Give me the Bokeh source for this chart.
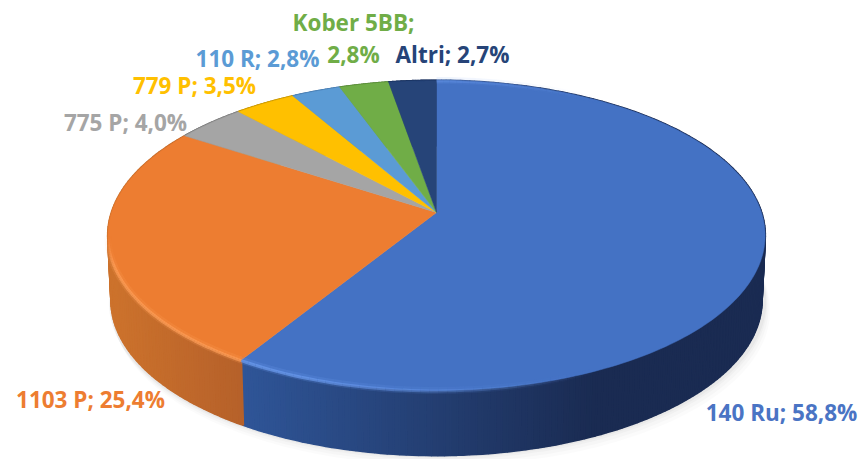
import numpy as np
from bokeh.plotting import figure
from bokeh.models import Range1d
from bokeh.core.properties import value
from bokeh.embed import file_html
from bokeh.resources import INLINE

categories = ["140 Ru", "1103 P", "775 P", "779 P", "110 R", "Kober 5BB", "Altri"]
shares = [58.8, 25.4, 4.0, 3.5, 2.8, 2.8, 2.7]
top_colors = ["#4472C4", "#ED7D31", "#A5A5A5", "#FFC000", "#5B9BD5", "#70AD47", "#264478"]
wall_left = ["#2F5597", "#CC722C", "#7F7F7F", "#C79500", "#4A7DB0", "#5A8A3A", "#1C3360"]
wall_right = ["#1A2B52", "#B5602A", "#7F7F7F", "#C79500", "#4A7DB0", "#5A8A3A", "#1C3360"]
text_colors = ["#4A74C4", "#ED7D31", "#A5A5A5", "#FFC000", "#5B9BD5", "#70AD47", "#264478"]
label_lines = [["140 Ru; 58,8%"], ["1103 P; 25,4%"], ["775 P; 4,0%"], ["779 P; 3,5%"],
               ["110 R; 2,8%"], ["Kober 5BB;", "2,8%"], ["Altri; 2,7%"]]
label_x = [781, 90, 125, 194, 257, 353, 452]
label_y = [412, 399, 122, 85, 58, 22, 54]
label_gap = 32

CX, CY, A, B, C, DEPTH = 436.0, 212.0, 151.6, 325.0, 0.148, 65.0


def project(theta):
    u, v = np.sin(theta), np.cos(theta)
    w = 1 + C * v
    return CX + B * u / w, CY - A * v / w


def hex_rgb(h):
    return np.array([int(h[i:i + 2], 16) for i in (1, 3, 5)], float)


def mix(a, b, t):
    c = hex_rgb(a) * (1 - t) + hex_rgb(b) * t
    return "#%02x%02x%02x" % tuple(int(round(x)) for x in c)


p = figure(width=862, height=459, output_backend="svg", toolbar_location=None,
           x_range=Range1d(0, 862), y_range=Range1d(459, 0),
           min_border=0, outline_line_color=None)
p.axis.visible = False
p.grid.visible = False
p.background_fill_color = "white"

fractions = np.cumsum([0.0] + shares) / sum(shares)
ring = np.linspace(0, 2 * np.pi, 361)
rx, ry = project(ring)

# soft shadow beneath the disc
for grow, alpha in [(10, 0.03), (7, 0.04), (4, 0.05), (2, 0.07)]:
    p.patch(rx + grow * 0.5, ry + DEPTH + grow, fill_color="#808080",
            fill_alpha=alpha, line_color=None)

# side walls
for i in range(len(shares)):
    th = np.linspace(fractions[i], fractions[i + 1], 220 if i == 0 else 80) * 2 * np.pi
    x, y = project(th)
    xs, ys, cols = [], [], []
    for j in range(len(th) - 1):
        xs.append([x[j], x[j + 1], CX + (x[j + 1] - CX) * 0.99, CX + (x[j] - CX) * 0.99])
        ys.append([y[j], y[j + 1], y[j + 1] + DEPTH, y[j] + DEPTH])
        mid = 0.5 * (x[j] + x[j + 1])
        if i == 0:
            t = np.clip((mid - 243) / 350, 0, 1)
        else:
            t = np.clip((mid - 112) / 133, 0, 1)
        cols.append(mix(wall_left[i], wall_right[i], float(t)))
    p.patches(xs, ys, fill_color=cols, line_color=cols, line_width=2)

# top faces
for i in range(len(shares)):
    th = np.linspace(fractions[i], fractions[i + 1], 200) * 2 * np.pi
    x, y = project(th)
    p.patch(np.r_[CX, x], np.r_[CY, y], fill_color=top_colors[i], line_color=top_colors[i],
            line_width=0.5)

# rim highlights on the front edge
rim_colors = ["#6C9CF0", "#FF9F5A"]
for i in (0, 1):
    th = np.linspace(fractions[i], fractions[i + 1], 160) * 2 * np.pi
    x, y = project(th)
    keep = x < 620
    x, y = x[keep], y[keep]
    if i == 0:
        fade = np.clip((600 - x) / 300, 0, 1)
    else:
        keep = y > 235
        x, y = x[keep], y[keep]
        fade = np.clip((y - 235) / 30, 0, 1)
    for width, strength, off in [(7, 0.2, 0.0), (3, 0.7, 0.5)]:
        sx = [[x[j], x[j + 1]] for j in range(len(x) - 1)]
        sy = [[y[j] + off, y[j + 1] + off] for j in range(len(x) - 1)]
        al = [float(fade[j]) * strength for j in range(len(x) - 1)]
        p.multi_line(sx, sy, line_color=rim_colors[i], line_width=width, line_alpha=al)

# labels
for i, lines in enumerate(label_lines):
    for k, line in enumerate(lines):
        p.text([label_x[i]], [label_y[i] + k * label_gap], text=[line],
               text_color=text_colors[i], text_align="center", text_baseline="middle",
               text_font=value("Open Sans"), text_font_size="22.5px", text_font_style="bold")

open("out.html", "w").write(file_html(p, INLINE))
